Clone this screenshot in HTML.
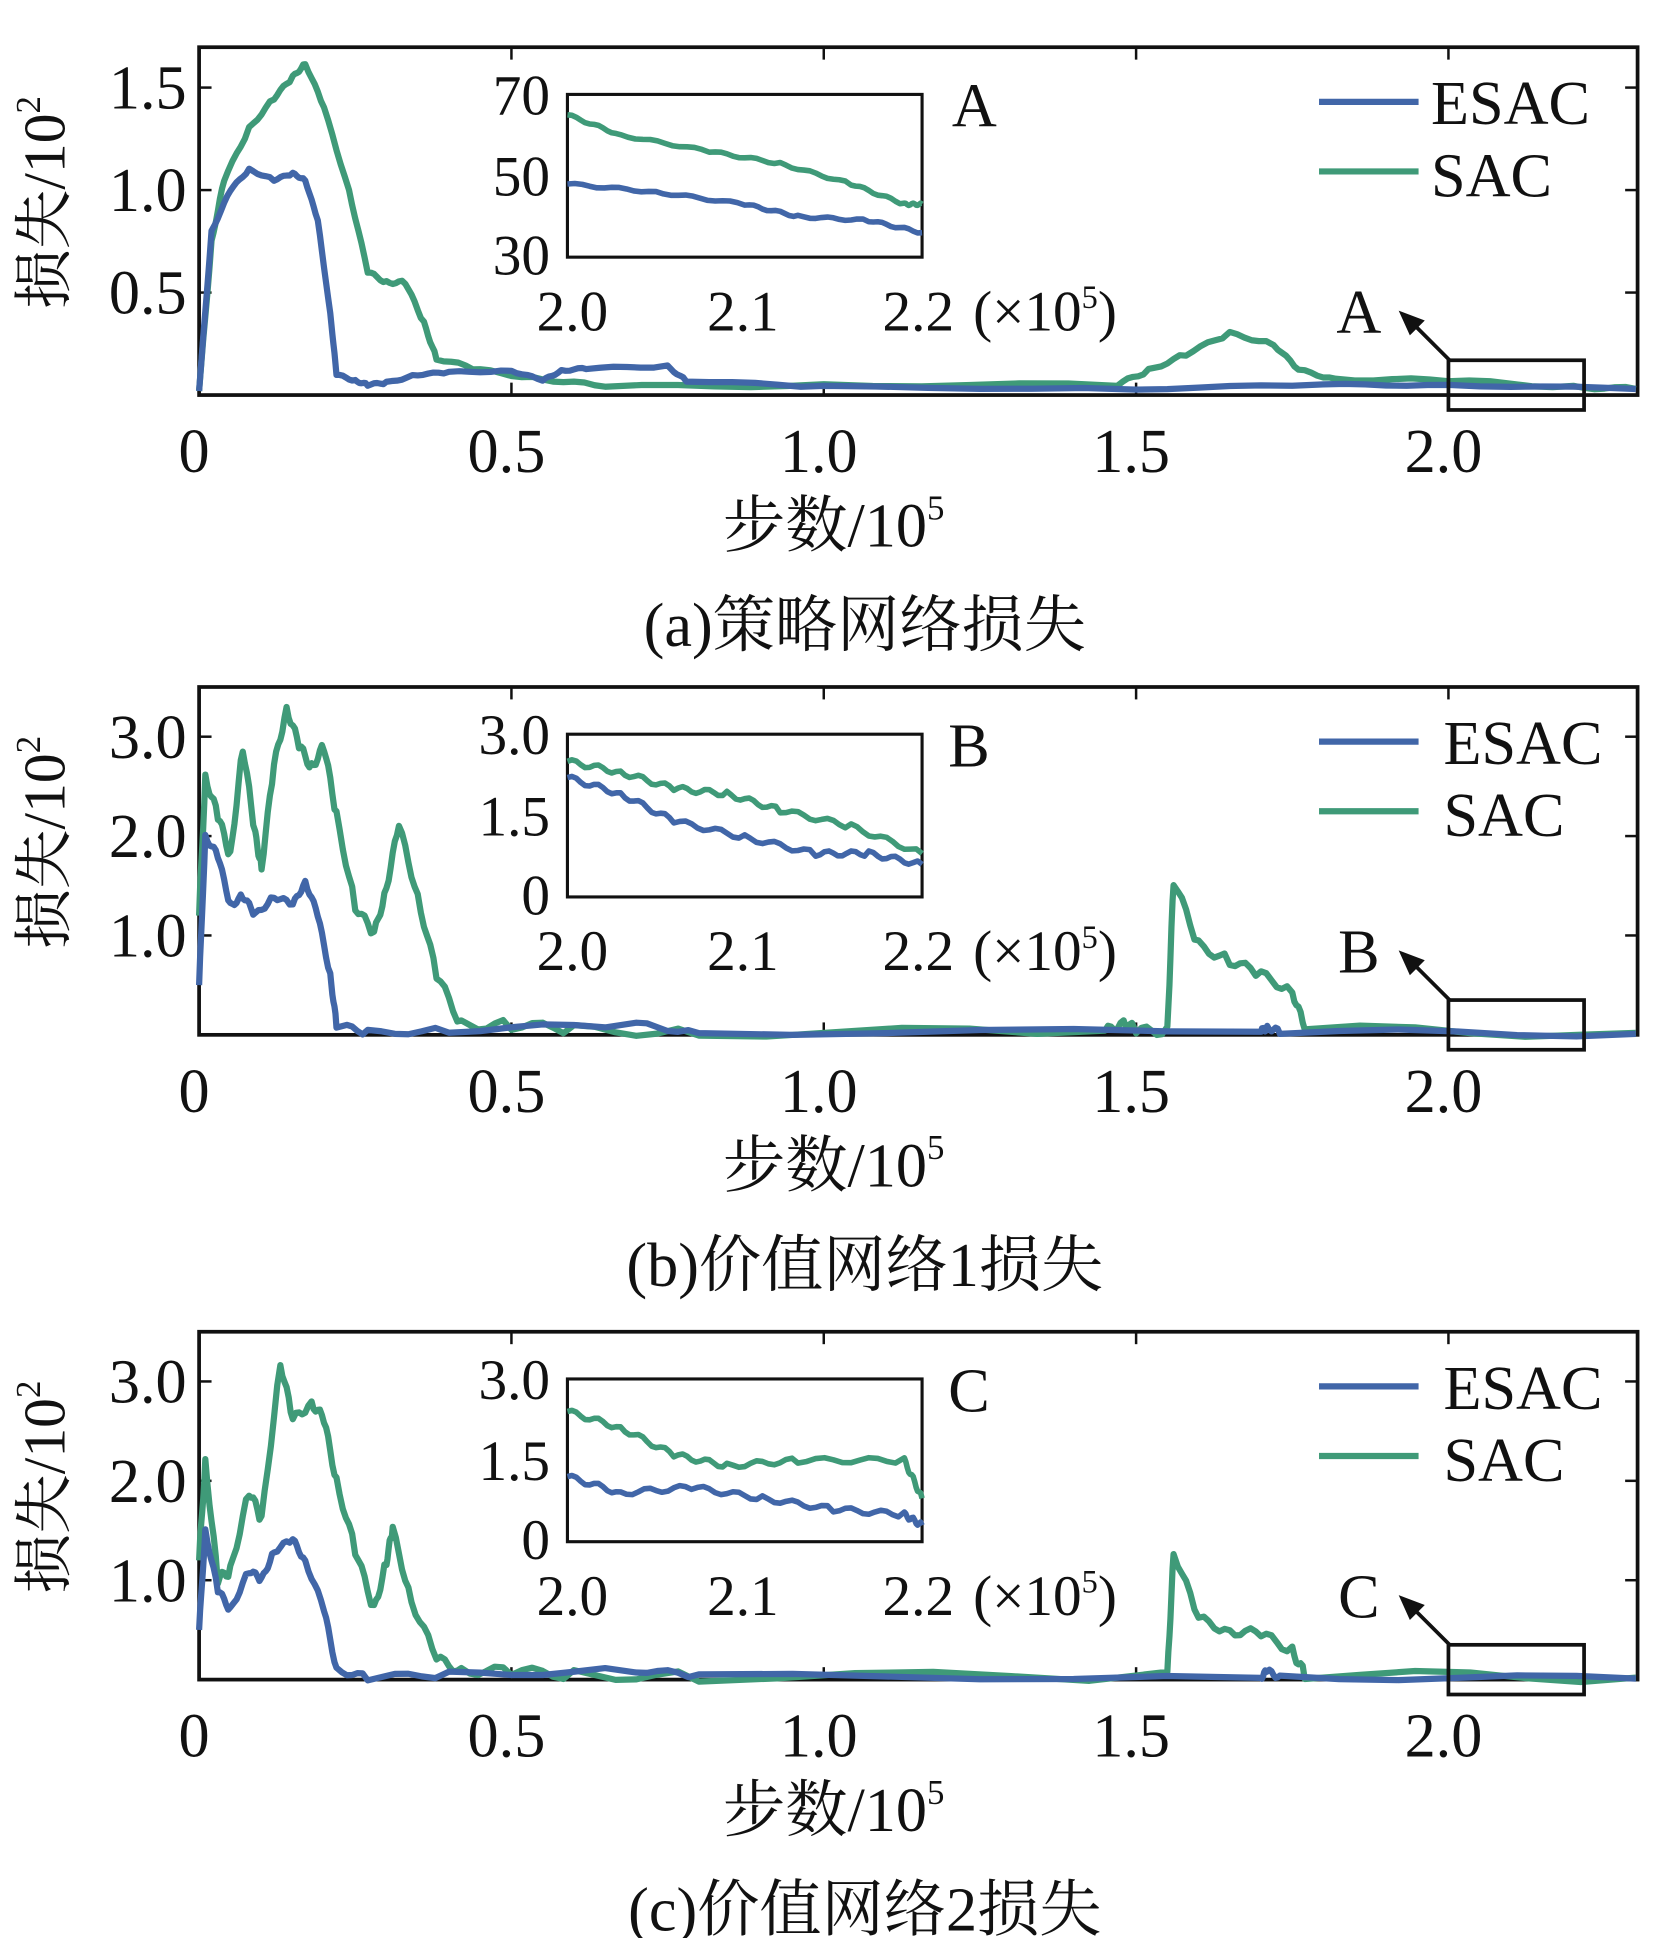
<!DOCTYPE html>
<html><head><meta charset="utf-8"><style>
html,body{margin:0;padding:0;background:#fff;}
svg{display:block;}
text{font-family:"Liberation Serif","Noto Serif CJK SC",serif;fill:#111;}
</style></head><body>
<svg id="s" width="1655" height="1938" viewBox="0 0 1330 1560" preserveAspectRatio="none" xmlns="http://www.w3.org/2000/svg"></svg>
<script>
const S=document.getElementById('s');let h='';
const B='#4166a8',G='#3f9a78';
function T(x,y,t,sz,anc,extra){h+=`<text x="${x}" y="${y}" font-size="${sz}" text-anchor="${anc||'middle'}" ${extra||''}>${t}</text>`;}
function poly(pts,fx,fy,col,w){let s='';pts.forEach(p=>{s+=fx(p[0]).toFixed(1)+','+fy(p[1]).toFixed(1)+' ';});h+=`<polyline points="${s}" fill="none" stroke="${col}" stroke-width="${w}" stroke-linejoin="round"/>`;}
function dens(pts,n,amp){
 let o=[];for(let i=0;i<pts.length-1;i++){const a=pts[i],b=pts[i+1];for(let k=0;k<n;k++){const t=k/n;o.push([a[0]+(b[0]-a[0])*t,a[1]+(b[1]-a[1])*t+(Math.sin(i*97+k*13.7)*amp)]);}}o.push(pts[pts.length-1]);return o;}
function panel(o){
 const L=160,R=1316,top=o.top,bot=o.top+280;
 const fx=x=>L+x*502, fy=y=>bot-y*o.ys;
 h+=`<rect x="${L}" y="${top}" width="${R-L}" height="${bot-top}" fill="none" stroke="#111" stroke-width="3"/>`;
 [0.5,1,1.5,2].forEach(v=>{const x=fx(v);h+=`<line x1="${x}" y1="${top}" x2="${x}" y2="${top+10}" stroke="#111" stroke-width="2"/><line x1="${x}" y1="${bot}" x2="${x}" y2="${bot-10}" stroke="#111" stroke-width="2"/>`;});
 o.yt.forEach(v=>{const y=fy(v);h+=`<line x1="${L}" y1="${y}" x2="${L+10}" y2="${y}" stroke="#111" stroke-width="2"/><line x1="${R}" y1="${y}" x2="${R-10}" y2="${y}" stroke="#111" stroke-width="2"/>`;T(L-10,y+17,o.ytl[o.yt.indexOf(v)],50,'end');});
 [['0',0],['0.5',0.5],['1.0',1],['1.5',1.5],['2.0',2]].forEach(a=>T(fx(a[1])-4,bot+62,a[0],50));
 poly(dens(o.g,6,o.na),fx,fy,G,5);
 poly(dens(o.b,6,o.na*0.6),fx,fy,B,5);
 h+=`<line x1="1060" y1="${top+44}" x2="1140" y2="${top+44}" stroke="${B}" stroke-width="5"/><line x1="1060" y1="${top+100}" x2="1140" y2="${top+100}" stroke="${G}" stroke-width="5"/>`;
 T(o.lx,top+62,'ESAC',50,'start');T(o.lx,top+120,'SAC',50,'start');
 const iL=456,iR=741,iT=top+38,iB=top+169;
 h+=`<rect x="${iL}" y="${iT}" width="${iR-iL}" height="${iB-iT}" fill="#fff" stroke="#111" stroke-width="2.5"/>`;
 o.il.forEach((t,i)=>T(iL-14,[iT+16,(iT+iB)/2+16,iB+14][i],t,46,'end'));
 T(460,top+228,'2.0',46);T(597,top+228,'2.1',46);T(738,top+228,'2.2',46);T(782,top+228,'(×10<tspan font-size="26" dy="-18">5</tspan><tspan dy="18">)</tspan>',46,'start');
 const ifx=x=>iL+(x-2)/0.2*(iR-iL), ify=y=>iB-(y-o.imin)/(o.imax-o.imin)*(iB-iT);
 poly(dens(o.ig,12,o.ina),ifx,ify,G,4.5);poly(dens(o.ib,12,o.ina),ifx,ify,B,4.5);
 T(o.lab[0],top+64,o.name,50,'start');
 h+=`<rect x="1164" y="${bot-28}" width="109" height="40" fill="none" stroke="#111" stroke-width="3"/>`;
 h+=`<line x1="1165" y1="${bot-28}" x2="1135" y2="${bot-58}" stroke="#111" stroke-width="3"/><polygon points="1124,${bot-68} 1145,${bot-60} 1133,${bot-48}" fill="#111"/>`;
 T(1092,bot-50,o.name,50);
 T(670,bot+122,'步数/10<tspan font-size="28" dy="-22">5</tspan>',50);
 T(695,bot+202,o.cap,50);
 T(52,top+125,'损失/10<tspan font-size="28" dy="-20">2</tspan>',48,'middle',`transform="rotate(-90 52 ${top+125})"`);
}
panel({top:38,ys:165,yt:[0.5,1,1.5],ytl:['0.5','1.0','1.5'],na:0.008,lx:1150,name:'A',lab:[765],cap:'(a)策略网络损失',
 il:['70','50','30'],imin:30,imax:70,ina:0.3,
 ig:[[2,65],[2.03,60],[2.08,56],[2.12,53],[2.16,48],[2.19,43],[2.2,43]],
 ib:[[2,48],[2.05,46],[2.1,43],[2.13,40],[2.17,39],[2.2,36]],
 b:[[0,0.02],[0.02,0.8],[0.05,1.0],[0.08,1.1],[0.12,1.05],[0.15,1.08],[0.17,1.05],[0.19,0.85],[0.21,0.4],[0.22,0.1],[0.25,0.07],[0.27,0.05],[0.3,0.06],[0.35,0.1],[0.4,0.11],[0.5,0.12],[0.55,0.07],[0.58,0.12],[0.62,0.13],[0.75,0.14],[0.78,0.07],[1.0,0.04],[1.5,0.03],[1.8,0.05],[2.0,0.05],[2.3,0.03]],
 g:[[0,0.02],[0.02,0.75],[0.04,1.05],[0.08,1.3],[0.12,1.45],[0.15,1.55],[0.17,1.62],[0.2,1.4],[0.24,1.0],[0.27,0.6],[0.3,0.55],[0.33,0.55],[0.36,0.35],[0.38,0.18],[0.45,0.12],[0.55,0.08],[0.65,0.04],[1.0,0.05],[1.47,0.05],[1.52,0.12],[1.58,0.2],[1.65,0.3],[1.72,0.25],[1.76,0.12],[1.82,0.08],[2.0,0.07],[2.2,0.04],[2.3,0.03]]});
const gb=[[0,1.2],[0.01,2.6],[0.03,2.2],[0.05,1.8],[0.07,2.9],[0.09,2.0],[0.1,1.7],[0.12,2.7],[0.14,3.3],[0.16,2.9],[0.18,2.7],[0.2,2.9],[0.22,2.2],[0.25,1.3],[0.28,1.0],[0.3,1.5],[0.32,2.1],[0.35,1.4],[0.38,0.6],[0.42,0.1],[0.5,0.1],[0.6,0.05],[0.8,0.03],[1.45,0.02],[1.48,0.15],[1.5,0.03],[1.55,0.05],[1.56,1.55],[1.6,0.9],[1.65,0.75],[1.7,0.6],[1.75,0.45],[1.77,0.05],[2.3,0.02]];
const bb=[[0,0.5],[0.01,2.0],[0.03,1.8],[0.05,1.3],[0.07,1.4],[0.09,1.2],[0.12,1.4],[0.15,1.3],[0.17,1.55],[0.19,1.2],[0.21,0.6],[0.22,0.1],[0.27,0.02],[0.4,0.05],[0.7,0.1],[0.8,0.03],[1.7,0.03],[1.71,0.08],[1.73,0.03],[2.3,0.01]];
panel({top:553,ys:80,yt:[1,2,3],ytl:['1.0','2.0','3.0'],na:0.05,lx:1160,name:'B',lab:[762],cap:'(b)价值网络1损失',
 il:['3.0','1.5','0'],imin:0,imax:3,ina:0.05,
 ig:[[2,2.5],[2.03,2.3],[2.06,2.0],[2.09,1.9],[2.12,1.6],[2.16,1.3],[2.2,0.8]],
 ib:[[2,2.2],[2.03,1.9],[2.06,1.4],[2.1,1.1],[2.14,0.8],[2.17,0.8],[2.2,0.6]],g:gb,b:bb});
const gc=[[0,1.2],[0.01,2.2],[0.03,1.0],[0.05,1.1],[0.08,1.9],[0.1,1.6],[0.13,3.2],[0.15,2.6],[0.18,2.8],[0.2,2.6],[0.22,2.0],[0.25,1.3],[0.28,0.7],[0.3,1.2],[0.31,1.5],[0.34,0.8],[0.38,0.2],[0.42,0.1],[0.5,0.08],[0.6,0.05],[0.8,0.03],[1.55,0.03],[1.56,1.3],[1.6,0.6],[1.65,0.5],[1.7,0.45],[1.75,0.3],[1.77,0.05],[2.3,0.02]];
const bc=[[0,0.5],[0.01,1.5],[0.03,0.9],[0.05,0.7],[0.08,1.1],[0.1,1.0],[0.12,1.3],[0.15,1.4],[0.17,1.2],[0.2,0.7],[0.22,0.1],[0.27,0.02],[0.4,0.05],[0.7,0.1],[0.8,0.03],[1.7,0.03],[1.71,0.08],[1.73,0.03],[2.3,0.01]];
panel({top:1072,ys:80,yt:[1,2,3],ytl:['1.0','2.0','3.0'],na:0.05,lx:1160,name:'C',lab:[762],cap:'(c)价值网络2损失',
 il:['3.0','1.5','0'],imin:0,imax:3,ina:0.05,
 ig:[[2,2.4],[2.03,2.1],[2.06,1.6],[2.09,1.4],[2.13,1.5],[2.19,1.5],[2.2,0.8]],
 ib:[[2,1.2],[2.03,0.9],[2.07,1.0],[2.11,0.8],[2.15,0.6],[2.19,0.5],[2.2,0.3]],g:gc,b:bc});
S.innerHTML=h;
</script>
</body></html>
